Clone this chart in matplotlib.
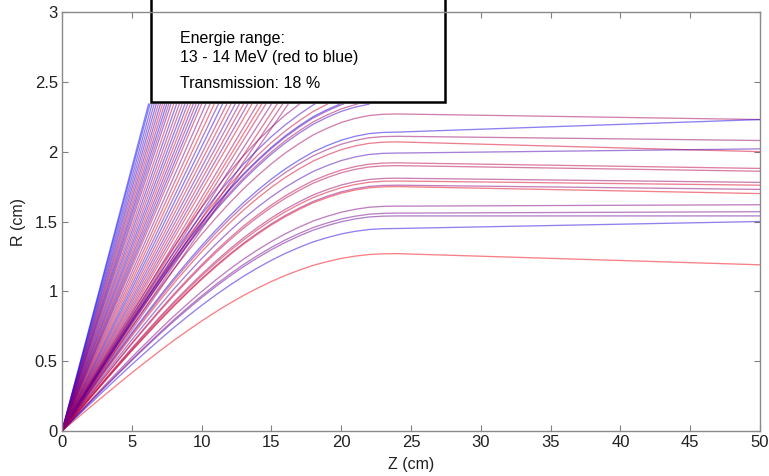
import numpy as np
import matplotlib.pyplot as plt
from matplotlib.patches import Rectangle

plt.rcParams['font.family'] = ['Liberation Sans', 'DejaVu Sans']

# Bahnen im Linsenfeld: Z (cm) gegen R (cm), Farbe = Energie (0 rot .. 1 blau)
R_TOP = 2.34          # Apertur: Bahnen darueber gehen verloren
Z_END = 50

# Form des Anstiegs im Linsenbereich (auf Maximum normiert), Z = 0..24
PROFILE_Z = list(range(25))
PROFILE_F = [0, 0.067, 0.133, 0.199, 0.264, 0.328, 0.390, 0.451, 0.510,
             0.566, 0.620, 0.671, 0.719, 0.764, 0.805, 0.843, 0.877, 0.907,
             0.934, 0.955, 0.973, 0.986, 0.995, 0.999, 1.0]

# transmittierte Bahnen: R-Maximum bei Z~24 und R bei Z=50
TRANS_RMAX = [2.27, 2.14, 2.11, 2.07, 1.99, 1.92, 1.90, 1.81, 1.79, 1.76,
              1.75, 1.61, 1.56, 1.54, 1.45, 1.27]
TRANS_R50 = [2.23, 2.23, 2.08, 2.00, 2.02, 1.88, 1.86, 1.78, 1.76, 1.73,
             1.70, 1.62, 1.57, 1.54, 1.50, 1.19]
TRANS_E = [0.35, 0.9, 0.4, 0.15, 0.7, 0.25, 0.3, 0.4, 0.15, 0.45, 0.1,
           0.5, 0.55, 0.6, 0.85, 0.05]

# verlorene Bahnen, gerade bis zur Apertur (Z am Ende)
LOST_ZEND = [6.2, 6.3, 6.45, 6.6, 6.75, 6.9, 7.05, 7.2, 7.35, 7.5, 7.65, 7.8,
             8.0, 8.2, 8.4, 8.6, 8.8, 9.0, 9.2, 9.4, 9.6, 9.8, 10.0, 10.3,
             10.6, 10.9, 11.2, 11.5, 11.8, 12.1, 12.4, 12.7, 13.0, 13.3, 13.6,
             14.0, 14.3, 14.6, 15.0, 15.4, 15.8, 16.2]
LOST_E = [0.95, 1.0, 0.85, 0.6, 0.9, 0.3, 0.8, 0.2, 0.5, 0.95, 0.35, 0.7,
          0.15, 0.85, 0.45, 0.25, 0.9, 0.6, 0.1, 0.75, 0.4, 0.8, 0.2, 0.55,
          0.3, 0.05, 0.65, 0.9, 0.35, 0.15, 0.7, 0.45, 0.2, 0.6, 0.1, 0.4,
          0.05, 0.3, 0.5, 0.2, 0.35, 0.4]

# verlorene Bahnen, die vor der Apertur schon umbiegen (R-Maximum > Apertur)
LOST_CURVED_RMAX = [2.58, 2.50, 2.45, 2.41, 2.40, 2.37, 2.352]
LOST_CURVED_E = [0.45, 0.8, 0.2, 0.9, 0.6, 0.35, 0.75]


def rb(e):
    return (1.0 - e, 0.0, e)


pz = np.array(PROFILE_Z, dtype=float)
pf = np.array(PROFILE_F)

fig = plt.figure(figsize=(7.69, 4.76), dpi=100)
ax = fig.add_axes([0.0806, 0.0945, 0.9077, 0.8803])

lw, al = 0.95, 0.5
for zend, e in zip(LOST_ZEND, LOST_E):
    ax.plot([0, zend], [0, R_TOP], color=rb(e), lw=lw, alpha=al)
for rmax, e in zip(LOST_CURVED_RMAX, LOST_CURVED_E):
    r = rmax * pf
    zc = np.interp(R_TOP / rmax, pf, pz)
    keep = pz < zc
    ax.plot(np.append(pz[keep], zc), np.append(r[keep], R_TOP),
            color=rb(e), lw=lw, alpha=al)
for rmax, r50, e in zip(TRANS_RMAX, TRANS_R50, TRANS_E):
    ax.plot(np.append(pz, Z_END), np.append(rmax * pf, r50),
            color=rb(e), lw=lw, alpha=al)

ax.set_xlim(0, 50)
ax.set_ylim(0, 3)
ax.set_xticks(np.arange(0, 51, 5))
ax.set_yticks(np.arange(0, 3.01, 0.5))
ax.set_yticklabels(['0', '0.5', '1', '1.5', '2', '2.5', '3'])
ax.tick_params(direction='in', top=True, right=True, length=4, width=0.8,
               color='#808080', labelsize=12, labelcolor='#202020', pad=3)
for s in ax.spines.values():
    s.set_color('#8a8a8a')
    s.set_linewidth(1.0)
ax.set_xlabel('Z (cm)', fontsize=11.5, labelpad=5, color='#202020')
ax.set_ylabel('R (cm)', fontsize=11.5, labelpad=6, color='#202020')

# Textkasten oben (reicht ueber den Rand hinaus)
box = Rectangle((0.1275, 0.785), 0.4212, 0.3, transform=ax.transAxes,
                facecolor='white', edgecolor='black', lw=1.8, clip_on=False,
                zorder=2.4)
ax.add_patch(box)
ax.text(0.169, 0.937, 'Energie range:', transform=ax.transAxes,
        fontsize=11.5, va='center', ha='left', zorder=3)
ax.text(0.169, 0.891, '13 - 14 MeV (red to blue)', transform=ax.transAxes,
        fontsize=11.5, va='center', ha='left', zorder=3)
ax.text(0.169, 0.829, 'Transmission: 18 %', transform=ax.transAxes,
        fontsize=11.5, va='center', ha='left', zorder=3)

fig.savefig('out.png', dpi=100)
